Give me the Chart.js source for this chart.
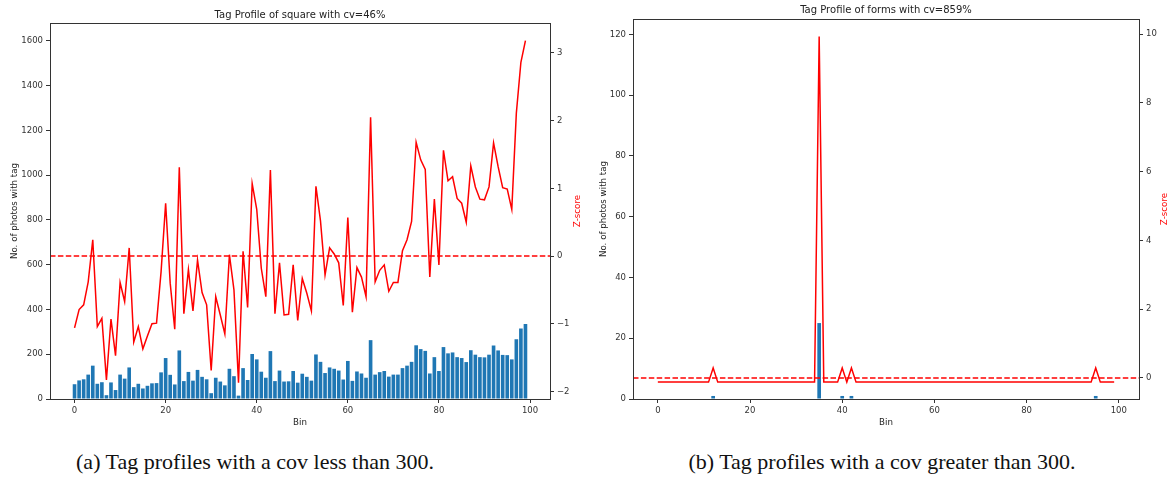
<!DOCTYPE html>
<html>
<head>
<meta charset="utf-8">
<script src="https://cdn.jsdelivr.net/npm/chart.js@4.4.0/dist/chart.umd.min.js"></script>
<style>
  html, body { margin: 0; padding: 0; background: #fff; }
  #wrap { position: relative; width: 1173px; height: 477px; overflow: hidden; }
  canvas { position: absolute; top: 0; }
  #c1 { left: 0; }
  #c2 { left: 590px; }
  .cap { position: absolute; top: 451px; line-height: 22px; font-family: "Liberation Serif", "DejaVu Serif", serif;
         font-size: 22px; color: #111; white-space: nowrap; transform: translateX(-50%); }
</style>
</head>
<body>
<div id="wrap">
  <canvas id="c1" width="590" height="440"></canvas>
  <canvas id="c2" width="583" height="440"></canvas>
  <div class="cap" style="left:255px">(a) Tag profiles with a cov less than 300.</div>
  <div class="cap" style="left:882px">(b) Tag profiles with a cov greater than 300.</div>
</div>
<script>
const bins = [
  0, 1, 2, 3, 4, 5, 6, 7, 8, 9, 10, 11, 12, 13, 14, 15, 16, 17, 18, 19,
  20, 21, 22, 23, 24, 25, 26, 27, 28, 29, 30, 31, 32, 33, 34, 35, 36, 37, 38, 39,
  40, 41, 42, 43, 44, 45, 46, 47, 48, 49, 50, 51, 52, 53, 54, 55, 56, 57, 58, 59,
  60, 61, 62, 63, 64, 65, 66, 67, 68, 69, 70, 71, 72, 73, 74, 75, 76, 77, 78, 79,
  80, 81, 82, 83, 84, 85, 86, 87, 88, 89, 90, 91, 92, 93, 94, 95, 96, 97, 98, 99
];

// tag "square" - photo counts per bin and z-score
const squareCounts = [
  66, 83, 88, 109, 149, 68, 75, 17, 74, 40, 109, 91, 141, 53, 68, 47, 59, 70, 71, 119,
  183, 108, 65, 217, 80, 121, 82, 130, 99, 88, 26, 95, 78, 61, 135, 102, 15, 138, 85, 201,
  177, 122, 95, 214, 80, 127, 78, 79, 125, 73, 113, 99, 82, 199, 166, 116, 141, 135, 127, 87,
  170, 81, 123, 114, 95, 263, 109, 120, 125, 100, 109, 109, 138, 149, 166, 240, 223, 215, 114, 187,
  125, 232, 204, 208, 187, 183, 165, 218, 198, 187, 186, 198, 239, 217, 197, 196, 177, 267, 315, 335
];
const squareZ = [
  -1.06, -0.79, -0.72, -0.38, 0.24, -1.04, -0.92, -1.83, -0.93, -1.47, -0.39, -0.67, 0.12, -1.27, -1.04, -1.37, -1.18, -1.00, -0.99, -0.23,
  0.78, -0.40, -1.08, 1.31, -0.85, -0.20, -0.81, -0.06, -0.54, -0.72, -1.69, -0.60, -0.87, -1.15, 0.02, -0.50, -1.87, 0.07, -0.76, 1.07,
  0.69, -0.18, -0.60, 1.27, -0.85, -0.10, -0.87, -0.86, -0.13, -0.95, -0.33, -0.55, -0.81, 1.03, 0.52, -0.28, 0.12, 0.03, -0.10, -0.73,
  0.57, -0.83, -0.17, -0.31, -0.60, 2.05, -0.38, -0.21, -0.13, -0.52, -0.39, -0.39, 0.08, 0.24, 0.51, 1.68, 1.42, 1.28, -0.31, 0.84,
  -0.13, 1.56, 1.11, 1.17, 0.85, 0.78, 0.50, 1.33, 1.02, 0.84, 0.83, 1.02, 1.67, 1.32, 1.01, 0.99, 0.69, 2.11, 2.86, 3.18
];

// tag "forms"
const formsCounts = [
  0, 0, 0, 0, 0, 0, 0, 0, 0, 0, 0, 0, 1, 0, 0, 0, 0, 0, 0, 0,
  0, 0, 0, 0, 0, 0, 0, 0, 0, 0, 0, 0, 0, 0, 0, 25, 0, 0, 0, 0,
  1, 0, 1, 0, 0, 0, 0, 0, 0, 0, 0, 0, 0, 0, 0, 0, 0, 0, 0, 0,
  0, 0, 0, 0, 0, 0, 0, 0, 0, 0, 0, 0, 0, 0, 0, 0, 0, 0, 0, 0,
  0, 0, 0, 0, 0, 0, 0, 0, 0, 0, 0, 0, 0, 0, 0, 1, 0, 0, 0, 0
];
const formsZ = [
  -0.12, -0.12, -0.12, -0.12, -0.12, -0.12, -0.12, -0.12, -0.12, -0.12, -0.12, -0.12, 0.29, -0.12, -0.12, -0.12, -0.12, -0.12, -0.12, -0.12,
  -0.12, -0.12, -0.12, -0.12, -0.12, -0.12, -0.12, -0.12, -0.12, -0.12, -0.12, -0.12, -0.12, -0.12, -0.12, 9.93, -0.12, -0.12, -0.12, -0.12,
  0.29, -0.12, 0.29, -0.12, -0.12, -0.12, -0.12, -0.12, -0.12, -0.12, -0.12, -0.12, -0.12, -0.12, -0.12, -0.12, -0.12, -0.12, -0.12, -0.12,
  -0.12, -0.12, -0.12, -0.12, -0.12, -0.12, -0.12, -0.12, -0.12, -0.12, -0.12, -0.12, -0.12, -0.12, -0.12, -0.12, -0.12, -0.12, -0.12, -0.12,
  -0.12, -0.12, -0.12, -0.12, -0.12, -0.12, -0.12, -0.12, -0.12, -0.12, -0.12, -0.12, -0.12, -0.12, -0.12, 0.29, -0.12, -0.12, -0.12, -0.12
];

const xTicks = [0, 20, 40, 60, 80, 100];
const squareCountTicks = [0, 200, 400, 600, 800, 1000, 1200, 1400, 1600];
const squareZTicks = [-2, -1, 0, 1, 2, 3];
const formsCountTicks = [0, 20, 40, 60, 80, 100, 120];
const formsZTicks = [0, 2, 4, 6, 8, 10];

const tickFont = { family: 'DejaVu Sans', size: 8.5 };
const ink = '#333';

function fmt(v) {
  return v < 0 ? '\u2212' + Math.abs(v) : String(v);
}

// title, axis titles, frame and the dashed z=0 line
const labelPlugin = {
  id: 'labels',
  afterDraw(chart, args, o) {
    const { ctx, chartArea: a, scales } = chart;
    ctx.save();
    const y0 = scales.y2.getPixelForValue(0);
    ctx.strokeStyle = '#ff0000';
    ctx.lineWidth = 1.5;
    ctx.setLineDash([5.5, 2.4]);
    ctx.beginPath();
    ctx.moveTo(a.left, y0);
    ctx.lineTo(a.right, y0);
    ctx.stroke();
    ctx.setLineDash([]);

    ctx.strokeStyle = ink;
    ctx.lineWidth = 1;
    ctx.strokeRect(Math.round(a.left) + 0.5, Math.round(a.top) + 0.5,
      Math.round(a.right - a.left), Math.round(a.bottom - a.top));

    ctx.fillStyle = '#222';
    ctx.textAlign = 'center';
    ctx.textBaseline = 'middle';
    const cx = (a.left + a.right) / 2;
    const cy = (a.top + a.bottom) / 2;
    ctx.font = '10px "DejaVu Sans"';
    ctx.fillText(o.title, cx, o.titleY);
    ctx.font = '8.7px "DejaVu Sans"';
    ctx.fillText('Bin', cx, 423);
    ctx.save();
    ctx.translate(o.yLabelX, cy);
    ctx.rotate(-Math.PI / 2);
    ctx.fillText('No. of photos with tag', 0, 0);
    ctx.restore();
    ctx.fillStyle = '#ff0000';
    ctx.save();
    ctx.translate(o.zLabelX, cy);
    ctx.rotate(-Math.PI / 2);
    ctx.fillText('Z-score', 0, 0);
    ctx.restore();
    ctx.restore();
  }
};

function axis(extra) {
  return Object.assign({
    type: 'linear',
    offset: false,
    ticks: { font: tickFont, color: ink, padding: 3, maxRotation: 0, autoSkip: false, callback: fmt },
    grid: { display: true, drawOnChartArea: false, drawTicks: true, tickLength: 4, color: ink, offset: false },
    border: { display: false }
  }, extra);
}

function makeChart(id, counts, z, c) {
  return new Chart(document.getElementById(id), {
    data: {
      datasets: [
        {
          type: 'line',
          data: z.map((v, i) => ({ x: bins[i], y: v })),
          yAxisID: 'y2',
          borderColor: '#ff0000',
          borderWidth: 1.5,
          pointRadius: 0,
          tension: 0,
          order: 0
        },
        {
          type: 'bar',
          data: counts.map((v, i) => ({ x: bins[i], y: v })),
          yAxisID: 'y',
          backgroundColor: '#1f77b4',
          borderWidth: 0,
          categoryPercentage: 1,
          barPercentage: 0.8,
          order: 1
        }
      ]
    },
    options: {
      responsive: false,
      animation: false,
      devicePixelRatio: 1,
      layout: { padding: { top: c.top, left: 0, right: 0, bottom: 0 } },
      plugins: {
        legend: { display: false },
        tooltip: { enabled: false },
        labels: c.labels
      },
      scales: {
        x: axis({
          position: 'bottom',
          min: -5.39, max: 104.39,
          afterBuildTicks: s => { s.ticks = xTicks.map(v => ({ value: v })); },
          afterFit: s => { s.height = 41; }
        }),
        y: axis({
          position: 'left',
          min: 0, max: c.yMax,
          afterBuildTicks: s => { s.ticks = c.yTicks.map(v => ({ value: v })); },
          afterFit: s => { s.width = c.leftW; }
        }),
        y2: axis({
          position: 'right',
          min: c.zMin, max: c.zMax,
          afterBuildTicks: s => { s.ticks = c.zTicks.map(v => ({ value: v })); },
          afterFit: s => { s.width = c.rightW; }
        })
      }
    },
    plugins: [labelPlugin]
  });
}

makeChart('c1', squareCounts, squareZ, {
  top: 23, leftW: 50, rightW: 40,
  yMax: 1680, yTicks: squareCountTicks,
  zMin: -2.11, zMax: 3.44, zTicks: squareZTicks,
  labels: { title: 'Tag Profile of square with cv=46%', titleY: 15, yLabelX: 15, zLabelX: 578 }
});

makeChart('c2', formsCounts, formsZ, {
  top: 19, leftW: 43, rightW: 34,
  yMax: 125.1, yTicks: formsCountTicks,
  zMin: -0.611, zMax: 10.44, zTicks: formsZTicks,
  labels: { title: 'Tag Profile of forms with cv=859%', titleY: 10, yLabelX: 14, zLabelX: 575 }
});
</script>
</body>
</html>
